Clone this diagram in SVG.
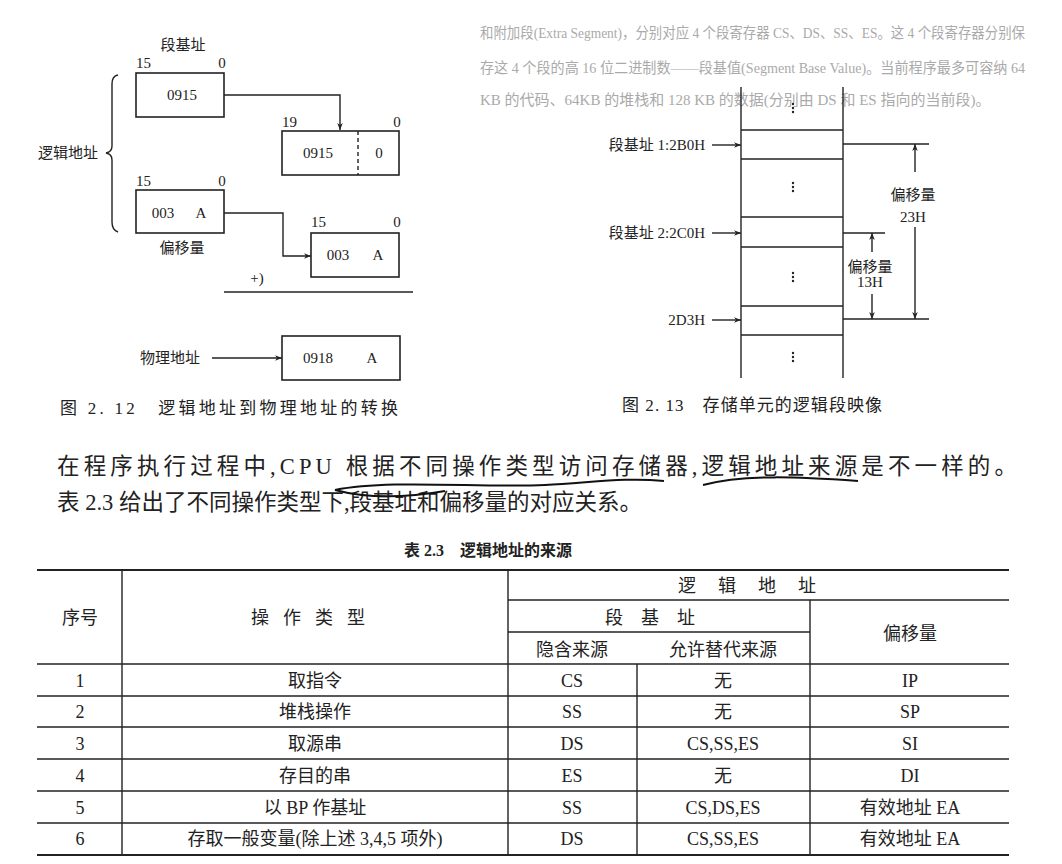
<svg xmlns="http://www.w3.org/2000/svg" width="1062" height="864" viewBox="0 0 1062 864">
<style>
text{font-family:"Liberation Serif","Noto Sans CJK SC",serif;fill:#222;}
.l{font-size:15px;}
.b{font-size:16px;}
.m{text-anchor:middle;}
.e{text-anchor:end;}
.cap{font-size:17px;}
.p{font-size:22.5px;}
.t{font-size:18px;}
.g{fill:#aaa;font-size:15px;}
.box{fill:#fff;stroke:#222;stroke-width:1.6;}
.ln{fill:none;stroke:#222;stroke-width:1.4;}
.ink{fill:none;stroke:#111;stroke-width:2;}
</style>
<defs>
<marker id="ar" viewBox="0 0 10 10" refX="10" refY="5" markerWidth="9" markerHeight="7" orient="auto-start-reverse" markerUnits="userSpaceOnUse"><path d="M0,1 L10,5 L0,9 L3,5 z" fill="#222"/></marker>
</defs>
<rect width="1062" height="864" fill="#fff"/>
<g id="bg-text">
<text class="g" x="480" y="38" textLength="545" lengthAdjust="spacingAndGlyphs">和附加段(Extra Segment)，分别对应 4 个段寄存器 CS、DS、SS、ES。这 4 个段寄存器分别保</text>
<text class="g" x="480" y="73" textLength="545" lengthAdjust="spacingAndGlyphs">存这 4 个段的高 16 位二进制数——段基值(Segment Base Value)。当前程序最多可容纳 64</text>
<text class="g" x="480" y="105">KB 的代码、64KB 的堆栈和 128 KB 的数据(分别由 DS 和 ES 指向的当前段)。</text>
</g>
<g id="fig212">
<g id="n-seg"><text class="l m" x="183" y="50">段基址</text><text class="l" x="136" y="68">15</text><text class="l m" x="222" y="68">0</text><rect class="box" x="136" y="73" width="88" height="44"/><text class="l m" x="182" y="100">0915</text></g>
<g id="n-logic"><path class="ln" d="M118,75 Q112,76 112,84 L112,146 Q112,152 106,153 Q112,154 112,160 L112,222 Q112,230 118,232"/><text class="l" x="38" y="158">逻辑地址</text></g>
<g id="n-shift"><text class="l" x="282" y="127">19</text><text class="l m" x="397" y="127">0</text><rect class="box" x="282" y="131" width="117" height="44"/><line x1="358" y1="131" x2="358" y2="175" stroke="#222" stroke-width="1.4" stroke-dasharray="4,3"/><text class="l m" x="318" y="158">0915</text><text class="l m" x="379" y="158">0</text></g>
<g id="n-off"><text class="l" x="136" y="186">15</text><text class="l m" x="222" y="186">0</text><rect class="box" x="136" y="190" width="88" height="43"/><text class="l m" x="163" y="218">003</text><text class="l m" x="201" y="218">A</text><text class="l m" x="182" y="253">偏移量</text></g>
<g id="n-off2"><text class="l" x="311" y="227">15</text><text class="l m" x="397" y="227">0</text><rect class="box" x="311" y="233" width="88" height="44"/><text class="l m" x="338" y="260">003</text><text class="l m" x="378" y="260">A</text></g>
<g id="n-sum"><text class="l m" x="257" y="283">+)</text><line class="ln" x1="224" y1="292" x2="413" y2="292"/></g>
<g id="n-phys"><text class="l" x="140" y="363">物理地址</text><rect class="box" x="282" y="336" width="118" height="44"/><text class="l m" x="318" y="363">0918</text><text class="l m" x="372" y="363">A</text></g>
<g id="connectors212">
<path class="ln" d="M224,95 L340,95 L340,130" marker-end="url(#ar)"/>
<path class="ln" d="M224,213 L283,213 L283,256 L311,256" marker-end="url(#ar)"/>
<path class="ln" d="M212,358 L282,358" marker-end="url(#ar)"/>
</g>
<text class="cap" x="60" y="414" textLength="338">图 2. 12　逻辑地址到物理地址的转换</text>
</g>
<g id="fig213">
<g id="ladder">
<line class="ln" x1="741" y1="87" x2="741" y2="378"/><line class="ln" x1="843" y1="87" x2="843" y2="378"/>
<line class="ln" x1="741" y1="130" x2="843" y2="130"/><line class="ln" x1="741" y1="159" x2="843" y2="159"/>
<line class="ln" x1="741" y1="217" x2="843" y2="217"/><line class="ln" x1="741" y1="247" x2="843" y2="247"/>
<line class="ln" x1="741" y1="306" x2="843" y2="306"/><line class="ln" x1="741" y1="335" x2="843" y2="335"/>
<g fill="#222"><circle cx="793" cy="104" r="1.2"/><circle cx="793" cy="108" r="1.2"/><circle cx="793" cy="112" r="1.2"/>
<circle cx="793" cy="183" r="1.2"/><circle cx="793" cy="187" r="1.2"/><circle cx="793" cy="191" r="1.2"/>
<circle cx="793" cy="273" r="1.2"/><circle cx="793" cy="277" r="1.2"/><circle cx="793" cy="281" r="1.2"/>
<circle cx="793" cy="353" r="1.2"/><circle cx="793" cy="357" r="1.2"/><circle cx="793" cy="361" r="1.2"/></g>
<line class="ln" x1="843" y1="144" x2="929" y2="144"/><line class="ln" x1="843" y1="233" x2="885" y2="233"/><line class="ln" x1="843" y1="319" x2="929" y2="319"/>
</g>
<g id="lbl1"><text class="l e" x="705" y="150">段基址 1:2B0H</text></g>
<g id="lbl2"><text class="l e" x="705" y="238">段基址 2:2C0H</text></g>
<g id="lbl3"><text class="l e" x="705" y="325">2D3H</text></g>
<g id="off23"><text class="l m" x="913" y="200">偏移量</text><text class="l m" x="913" y="222">23H</text></g>
<g id="off13"><text class="l m" x="870" y="272">偏移量</text><text class="l m" x="870" y="287">13H</text></g>
<g id="connectors213">
<path class="ln" d="M712,145 L741,145" marker-end="url(#ar)"/>
<path class="ln" d="M712,233 L741,233" marker-end="url(#ar)"/>
<path class="ln" d="M712,320 L741,320" marker-end="url(#ar)"/>
<path class="ln" d="M915,172 L915,144" marker-end="url(#ar)"/>
<path class="ln" d="M915,227 L915,319" marker-end="url(#ar)"/>
<path class="ln" d="M872,252 L872,233" marker-end="url(#ar)"/>
<path class="ln" d="M872,294 L872,319" marker-end="url(#ar)"/>
</g>
<text class="cap" x="622" y="411" textLength="260">图 2. 13　存储单元的逻辑段映像</text>
</g>
<g id="para">
<text class="p" x="57" y="474" textLength="960">在程序执行过程中,CPU 根据不同操作类型访问存储器,逻辑地址来源是不一样的。</text>
<text class="p" x="57" y="510">表 2.3 给出了不同操作类型下,段基址和偏移量的对应关系。</text>
<path class="ink" d="M335,490 C390,479 480,488 545,485 C590,483 625,477 664,481"/>
<path class="ink" d="M335,490 C365,498 405,498 445,491"/>
<path class="ink" d="M703,485 C745,474 800,477 858,481"/>
</g>
<text class="b m" x="488" y="556" font-weight="bold">表 2.3　逻辑地址的来源</text>
<g id="table">
<line x1="37" y1="570" x2="1009" y2="570" stroke="#222" stroke-width="2.2"/>
<line x1="37" y1="855" x2="1009" y2="855" stroke="#222" stroke-width="2.2"/>
<g class="ln">
<line x1="122" y1="570" x2="122" y2="855"/><line x1="508" y1="570" x2="508" y2="855"/>
<line x1="637" y1="664" x2="637" y2="855"/><line x1="810" y1="600" x2="810" y2="855"/>
<line x1="508" y1="600" x2="1009" y2="600"/><line x1="508" y1="632" x2="810" y2="632"/>
<line x1="37" y1="664" x2="1009" y2="664"/><line x1="37" y1="696" x2="1009" y2="696"/>
<line x1="37" y1="727" x2="1009" y2="727"/><line x1="37" y1="759" x2="1009" y2="759"/>
<line x1="37" y1="791" x2="1009" y2="791"/><line x1="37" y1="823" x2="1009" y2="823"/>
</g>
<g class="t">
<text class="m" x="80" y="624">序号</text><text class="m" x="315" y="624" letter-spacing="14">操作类型</text>
<text class="m" x="758" y="592" letter-spacing="22">逻辑地址</text><text class="m" x="659" y="624" letter-spacing="18">段基址</text>
<text class="m" x="572" y="656">隐含来源</text><text class="m" x="723" y="656">允许替代来源</text><text class="m" x="910" y="640">偏移量</text>
<text class="m" x="80" y="687">1</text><text class="m" x="315" y="687">取指令</text><text class="m" x="572" y="687">CS</text><text class="m" x="723" y="687">无</text><text class="m" x="910" y="687">IP</text>
<text class="m" x="80" y="718">2</text><text class="m" x="315" y="718">堆栈操作</text><text class="m" x="572" y="718">SS</text><text class="m" x="723" y="718">无</text><text class="m" x="910" y="718">SP</text>
<text class="m" x="80" y="750">3</text><text class="m" x="315" y="750">取源串</text><text class="m" x="572" y="750">DS</text><text class="m" x="723" y="750">CS,SS,ES</text><text class="m" x="910" y="750">SI</text>
<text class="m" x="80" y="782">4</text><text class="m" x="315" y="782">存目的串</text><text class="m" x="572" y="782">ES</text><text class="m" x="723" y="782">无</text><text class="m" x="910" y="782">DI</text>
<text class="m" x="80" y="814">5</text><text class="m" x="315" y="814">以 BP 作基址</text><text class="m" x="572" y="814">SS</text><text class="m" x="723" y="814">CS,DS,ES</text><text class="m" x="910" y="814">有效地址 EA</text>
<text class="m" x="80" y="845">6</text><text class="m" x="315" y="845">存取一般变量(除上述 3,4,5 项外)</text><text class="m" x="572" y="845">DS</text><text class="m" x="723" y="845">CS,SS,ES</text><text class="m" x="910" y="845">有效地址 EA</text>
</g>
</g>
</svg>
